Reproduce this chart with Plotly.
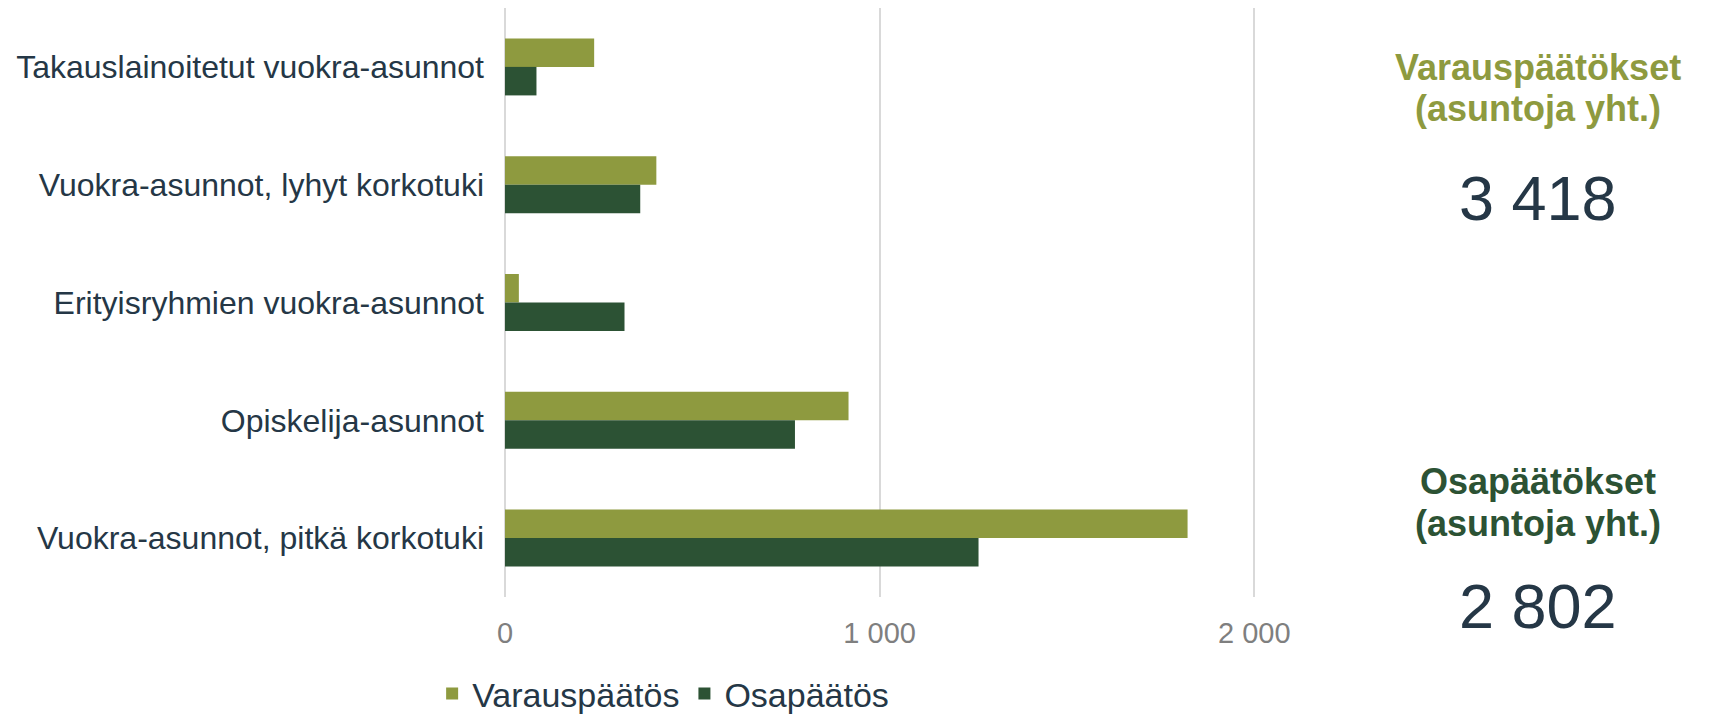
import plotly.graph_objects as go

categories = [
    "Takauslainoitetut vuokra-asunnot",
    "Vuokra-asunnot, lyhyt korkotuki",
    "Erityisryhmien vuokra-asunnot",
    "Opiskelija-asunnot",
    "Vuokra-asunnot, pitkä korkotuki",
]
varaus = [238, 404, 37, 917, 1822]
osa = [84, 361, 319, 774, 1264]
tick_vals = [0, 1000, 2000]
total_varaus = "3 418"
total_osa = "2 802"

C_VAR = "#8E9A3F"
C_OSA = "#2C5234"
C_TXT = "#253746"
FONT = "Liberation Sans, Arial, sans-serif"

W, H = 1702, 710
L, R, T, B = 497, 452, 0, 121
PW, PH = W - L - R, H - T - B

fig = go.Figure()
fig.add_trace(go.Bar(y=categories, x=varaus, orientation="h", name="Varauspäätös",
                     marker=dict(color=C_VAR, line=dict(width=0))))
fig.add_trace(go.Bar(y=categories, x=osa, orientation="h", name="Osapäätös",
                     marker=dict(color=C_OSA, line=dict(width=0))))

fig.update_layout(
    width=W, height=H,
    margin=dict(l=L, r=R, t=T, b=B, pad=0, autoexpand=False),
    barmode="group", bargap=0.516, bargroupgap=0,
    plot_bgcolor="white", paper_bgcolor="white",
    separators=", ",
    font=dict(family=FONT, color=C_TXT, size=32),
    xaxis=dict(range=[0, 2010], tickvals=tick_vals, tickformat=",d",
               showgrid=True, gridcolor="#D9D9D9", gridwidth=2,
               zeroline=True, zerolinecolor="#D9D9D9", zerolinewidth=2,
               tickfont=dict(color="#7F7F7F", size=29), ticks="", ticklen=0,
               ticklabelstandoff=16, showline=False, automargin=False),
    yaxis=dict(autorange="reversed", showgrid=False, ticks="", showline=False,
               tickfont=dict(color=C_TXT, size=32), ticklabelstandoff=20, automargin=False),
    legend=dict(orientation="h", x=0.21, xanchor="center", y=-0.1647, yanchor="middle",
                font=dict(size=34, color=C_TXT), itemwidth=30, traceorder="normal"),
    showlegend=True,
)

AX = 1530  # figure px, centre of the right-hand text block
annots = [
    ("<b>Varauspäätökset</b>", 60, C_VAR, 36),
    ("<b>(asuntoja yht.)</b>", 101, C_VAR, 36),
    (total_varaus, 190, C_TXT, 63),
    ("<b>Osapäätökset</b>", 473, C_OSA, 36),
    ("<b>(asuntoja yht.)</b>", 515, C_OSA, 36),
    (total_osa, 598, C_TXT, 63),
]
new = []
for txt, yp, col, sz in annots:
    new.append(dict(text=txt, x=(AX - L) / PW, y=1 - (yp - T) / PH,
                    xref="paper", yref="paper", xanchor="center", yanchor="middle",
                    showarrow=False, font=dict(family=FONT, size=sz, color=col)))
fig.layout.annotations = new

fig.write_html("out.html")
